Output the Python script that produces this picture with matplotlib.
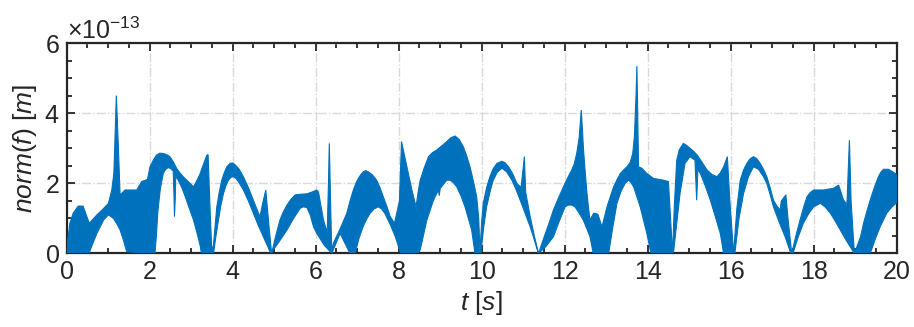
import numpy as np
import matplotlib
matplotlib.use("Agg")
import matplotlib.pyplot as plt
from matplotlib.ticker import MultipleLocator

# envelope of the dense signal, values in units of 1e-13 m
t_upper = [0.00, 0.08, 0.16, 0.28, 0.40, 0.49, 0.55, 0.73, 0.89, 1.01, 1.09, 1.14,
           1.20, 1.25, 1.29, 1.41, 1.69, 1.81, 1.95, 2.01, 2.09, 2.17, 2.25, 2.33, 2.41,
           2.49, 2.57, 2.65, 2.73, 2.81, 2.94, 3.06, 3.14, 3.22, 3.30, 3.38, 3.41, 3.46,
           3.50, 3.54, 3.62, 3.68, 3.74, 3.80, 3.86, 3.94, 4.00, 4.06, 4.16, 4.26, 4.38,
           4.50, 4.58, 4.66, 4.72, 4.80, 4.86, 4.94, 5.04, 5.14, 5.22, 5.31, 5.41, 5.51,
           5.65, 5.79, 5.91, 6.03, 6.07, 6.19, 6.28, 6.31, 6.33, 6.36, 6.39, 6.43, 6.59,
           6.75, 6.83, 6.91, 6.97, 7.03, 7.09, 7.15, 7.21, 7.27, 7.37, 7.47, 7.55, 7.63,
           7.72, 7.80, 7.90, 8.02, 8.07, 8.20, 8.32, 8.42, 8.47, 8.52, 8.62, 8.72, 8.82,
           8.92, 9.04, 9.16, 9.26, 9.36, 9.46, 9.56, 9.64, 9.72, 9.80, 9.88, 9.93, 9.96,
           10.00, 10.04, 10.12, 10.20, 10.28, 10.37, 10.49, 10.57, 10.65, 10.75, 10.85, 10.95,
           11.03, 11.06, 11.17, 11.27, 11.37, 11.50, 11.62, 11.73, 11.85, 11.97, 12.07, 12.17,
           12.23, 12.29, 12.35, 12.40, 12.43, 12.45, 12.49, 12.53, 12.57, 12.61, 12.70, 12.80,
           12.90, 13.02, 13.10, 13.18, 13.26, 13.34, 13.42, 13.50, 13.58, 13.64, 13.68, 13.72,
           13.74, 13.76, 13.78, 13.86, 13.98, 14.14, 14.38, 14.50, 14.60, 14.64, 14.70, 14.76,
           14.86, 14.94, 15.02, 15.10, 15.19, 15.31, 15.43, 15.55, 15.67, 15.75, 15.83, 15.92,
           15.98, 16.07, 16.15, 16.23, 16.31, 16.39, 16.47, 16.55, 16.63, 16.71, 16.79, 16.87,
           16.95, 17.03, 17.11, 17.19, 17.22, 17.33, 17.38, 17.47, 17.57, 17.67, 17.76, 17.84,
           17.92, 18.00, 18.24, 18.48, 18.60, 18.72, 18.80, 18.86, 18.90, 18.98, 19.13, 19.20,
           19.28, 19.36, 19.46, 19.56, 19.62, 19.68, 19.80, 19.90, 20.00]
upper = [0.10, 0.86, 1.15, 1.35, 1.35, 1.05, 0.86, 1.10, 1.28, 1.43, 1.81, 2.28,
         4.50, 3.00, 1.67, 1.81, 1.81, 2.05, 2.11, 2.47, 2.66, 2.81, 2.86, 2.85, 2.82,
         2.76, 2.62, 2.43, 2.30, 2.19, 2.04, 1.90, 2.08, 2.28, 2.55, 2.80, 2.82, 1.20,
         0.05, 0.25, 1.33, 1.75, 2.09, 2.30, 2.47, 2.57, 2.58, 2.53, 2.40, 2.19, 1.88,
         1.52, 1.28, 1.05, 1.40, 1.81, 1.00, 0.00, 0.50, 0.95, 1.18, 1.38, 1.55, 1.67,
         1.69, 1.70, 1.75, 1.81, 1.75, 0.95, 0.60, 2.00, 3.14, 1.50, 0.05, 0.30, 0.70,
         1.14, 1.50, 1.81, 2.00, 2.14, 2.25, 2.33, 2.36, 2.33, 2.24, 2.09, 1.88, 1.62,
         1.33, 1.05, 0.86, 1.50, 3.19, 2.47, 1.81, 1.33, 1.75, 2.09, 2.45, 2.76, 2.88,
         2.95, 3.07, 3.19, 3.30, 3.35, 3.25, 3.04, 2.78, 2.47, 2.07, 1.62, 1.00, 0.05,
         0.90, 1.43, 1.88, 2.19, 2.42, 2.57, 2.63, 2.58, 2.47, 2.27, 2.00, 1.88,
         2.76, 1.75, 1.05, 0.50, 0.00, 0.45, 0.85, 1.24, 1.58, 1.90, 2.15, 2.38,
         2.55, 2.85, 3.30, 4.09, 3.50, 3.04, 2.40, 1.81, 1.35, 0.95, 1.15, 1.12,
         0.76, 1.33, 1.62, 1.90, 2.10, 2.28, 2.38, 2.47, 2.60, 2.85, 3.33, 4.50,
         5.34, 4.00, 2.47, 2.43, 2.28, 2.14, 2.09, 2.05, 0.00, 1.30, 2.66, 2.95,
         3.14, 3.08, 3.00, 2.92, 2.81, 2.60, 2.38, 2.25, 2.19, 2.30, 2.47, 2.76,
         1.50, 0.00, 1.30, 2.09, 2.38, 2.57, 2.70, 2.76, 2.70, 2.57, 2.40, 2.19,
         1.88, 1.52, 1.36, 1.24, 1.50, 1.67, 1.00, 0.00, 0.50, 0.95, 1.33, 1.62,
         1.74, 1.81, 1.81, 1.86, 1.95, 1.52, 1.40, 3.23, 1.50, 0.00, 0.48, 0.86,
         1.20, 1.52, 1.88, 2.19, 2.32, 2.40, 2.40, 2.33, 2.25]

t_lower = [0.00, 0.55, 0.57, 0.73, 0.89, 1.01, 1.13, 1.21, 1.29, 1.37, 1.45, 2.13,
           2.17, 2.20, 2.26, 2.33, 2.39, 2.45, 2.51, 2.57, 2.59, 2.60, 2.62, 2.63, 2.69,
           2.78, 2.86, 2.96, 3.06, 3.14, 3.22, 3.25, 3.54, 3.60, 3.66, 3.72, 3.78, 3.84,
           3.90, 3.96, 4.02, 4.08, 4.14, 4.26, 4.38, 4.50, 4.62, 4.74, 4.84, 4.92, 5.10,
           5.31, 5.47, 5.63, 5.71, 5.79, 5.87, 5.95, 6.03, 6.20, 6.39, 6.59, 6.83, 6.95,
           7.05, 7.15, 7.23, 7.31, 7.41, 7.51, 7.59, 7.67, 7.80, 7.92, 8.05, 8.46, 8.52,
           8.68, 8.84, 8.96, 8.98, 9.00, 9.08, 9.16, 9.24, 9.32, 9.40, 9.50, 9.60, 9.68,
           9.76, 9.84, 9.98, 10.05, 10.12, 10.20, 10.28, 10.38, 10.49, 10.60, 10.73, 10.83,
           10.93, 11.05, 11.17, 11.27, 11.37, 11.55, 11.73, 11.87, 12.01, 12.09, 12.17, 12.25,
           12.35, 12.45, 12.53, 12.61, 12.69, 13.06, 13.16, 13.26, 13.36, 13.46, 13.54, 13.60,
           13.66, 13.74, 13.82, 13.90, 13.98, 14.08, 14.62, 14.78, 14.90, 15.02, 15.14, 15.18,
           15.21, 15.27, 15.39, 15.51, 15.63, 15.75, 15.83, 16.10, 16.20, 16.31, 16.43, 16.55,
           16.67, 16.79, 16.87, 16.95, 17.03, 17.15, 17.31, 17.45, 17.50, 17.62, 17.75, 17.88,
           18.00, 18.16, 18.28, 18.40, 18.52, 18.64, 18.76, 18.88, 18.98, 19.36, 19.48, 19.60,
           19.76, 19.88, 20.00]
lower = [0.00, 0.00, 0.10, 0.57, 0.95, 1.10, 1.00, 0.85, 0.67, 0.38, 0.05, 0.00,
         0.60, 1.20, 1.85, 2.28, 2.40, 2.45, 2.42, 2.35, 1.60, 1.05, 1.60, 2.20, 2.09,
         1.87, 1.62, 1.28, 0.95, 0.60, 0.22, 0.00, 0.00, 0.50, 0.95, 1.38, 1.71, 1.93,
         2.09, 2.17, 2.19, 2.14, 2.05, 1.81, 1.50, 1.15, 0.80, 0.48, 0.22, 0.00, 0.30,
         0.67, 1.00, 1.29, 1.33, 1.31, 1.10, 0.76, 0.57, 0.25, 0.00, 0.57, 0.00, 0.00,
         0.45, 0.78, 0.98, 1.14, 1.27, 1.33, 1.27, 1.14, 0.82, 0.48, 0.00, 0.00, 0.10,
         0.95, 1.52, 1.81, 1.65, 1.85, 1.97, 2.09, 2.09, 2.02, 1.90, 1.65, 1.33, 1.00,
         0.67, 0.00, 0.00, 0.75, 1.33, 1.75, 2.09, 2.32, 2.43, 2.33, 2.09, 1.82,
         1.52, 1.14, 0.76, 0.38, 0.00, 0.20, 0.48, 0.92, 1.33, 1.38, 1.38, 1.33,
         1.15, 0.95, 0.72, 0.48, 0.00, 0.00, 0.75, 1.43, 1.78, 2.00, 2.09, 2.02,
         1.90, 1.62, 1.33, 0.95, 0.57, 0.00, 0.00, 1.71, 2.57, 2.76, 2.66, 1.52,
         2.40, 2.28, 1.92, 1.52, 1.05, 0.57, 0.00, 0.00, 1.00, 1.71, 2.20, 2.47,
         2.40, 2.19, 2.00, 1.68, 1.33, 0.95, 0.48, 0.00, 0.00, 0.45, 0.86, 1.14,
         1.33, 1.43, 1.32, 1.15, 0.92, 0.67, 0.42, 0.19, 0.00, 0.00, 0.40, 0.76,
         1.15, 1.32, 1.45]

blue = "#0072BD"
dark = "#262626"

plt.rcParams["font.family"] = ["Liberation Sans", "DejaVu Sans"]
plt.rcParams["mathtext.fontset"] = "custom"
plt.rcParams["mathtext.rm"] = "Liberation Sans"
plt.rcParams["mathtext.it"] = "Liberation Sans:italic"
plt.rcParams["axes.unicode_minus"] = False

fig = plt.figure(figsize=(9.14, 3.27), dpi=100)
ax = fig.add_axes([0.0728, 0.2248, 0.9083, 0.6437])

# band between upper and lower envelope, drawn as one polygon
poly_t = np.concatenate([t_upper, t_lower[::-1]])
poly_v = np.concatenate([upper, lower[::-1]]) * 1e-13
ax.fill(poly_t, poly_v, facecolor=blue, edgecolor=blue, linewidth=0.8, zorder=3)

ax.set_xlim(0, 20)
ax.set_ylim(0, 6e-13)
ax.xaxis.set_major_locator(MultipleLocator(2))
ax.xaxis.set_minor_locator(MultipleLocator(0.5))
ax.yaxis.set_major_locator(MultipleLocator(2e-13))
ax.yaxis.set_minor_locator(MultipleLocator(0.5e-13))
ax.ticklabel_format(axis="y", style="sci", scilimits=(0, 0), useMathText=True)

ax.tick_params(which="both", direction="in", top=True, right=True,
               colors=dark, width=1.3, labelsize=18, pad=5)
ax.tick_params(which="major", length=6)
ax.tick_params(which="minor", length=3.5)
for s in ax.spines.values():
    s.set_linewidth(1.6)
    s.set_color(dark)

ax.grid(True, which="major", color="#d9d9d9", linestyle="-.", linewidth=1.0, zorder=0)
ax.set_axisbelow(True)

ax.yaxis.get_offset_text().set_fontsize(18)
ax.yaxis.get_offset_text().set_color(dark)

ax.set_xlabel(r"$t\ [s]$", fontsize=19, color=dark, labelpad=3)
ax.set_ylabel(r"$\mathit{norm(f)}\ [m]$", fontsize=19, color=dark, labelpad=4)

fig.savefig("out.png", dpi=100)
